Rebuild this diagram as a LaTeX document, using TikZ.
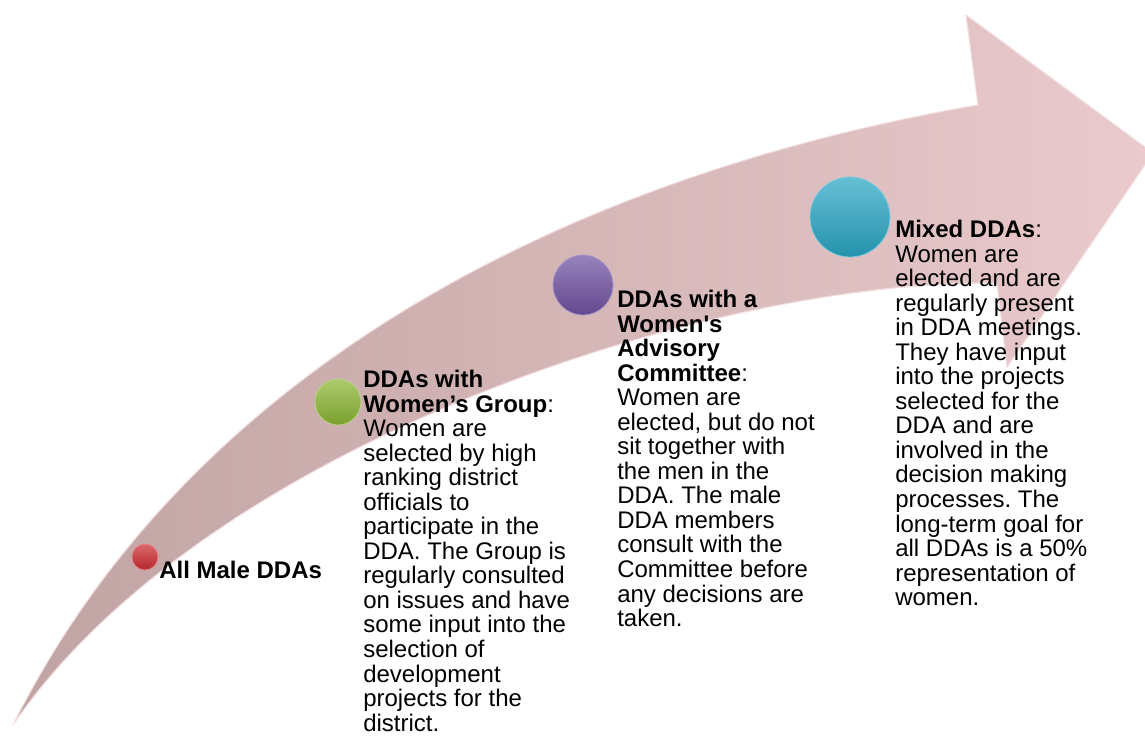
\documentclass[tikz,border=0pt]{standalone}
\usepackage{fontspec}
\setmainfont{Liberation Sans}
\usepackage{xcolor}
\usepackage{tikz}
\usetikzlibrary{shapes,positioning,calc}
\frenchspacing

\definecolor{arrowL}{RGB}{192,163,163}
\definecolor{arrowR}{RGB}{234,202,204}
\definecolor{arrowEdge}{RGB}{242,220,222}
\definecolor{redball}{RGB}{205,45,50}
\definecolor{greenball}{RGB}{140,182,52}
\definecolor{purpleball}{RGB}{112,82,162}
\definecolor{cyanball}{RGB}{42,166,196}

\tikzset{
    stagedot/.style={circle, inner sep=0pt, draw=#1!60!white, line width=0.6pt,
        top color=#1!72!white, bottom color=#1!88!black},
    blurb/.style={anchor=north west, align=left, inner sep=0pt,
        font=\fontsize{18}{18.4}\selectfont}
}

\begin{document}
\begin{tikzpicture}[x=0.75pt, y=-0.75pt]
    \useasboundingbox (0,0) rectangle (1145,735);
    \clip (0,0) rectangle (1145,735);

    % Curved arrow
    \shade[left color=arrowL, right color=arrowR, draw=arrowEdge, line width=0.8pt]
        (13,725) .. controls (200,350) and (600,170) .. (978,105)
        -- (966,15) -- (1153,153) -- (1007,367) -- (997,283)
        .. controls (700,280) and (200,450) .. (13,725) -- cycle;

    % Stage dots
    \node[stagedot=redball, minimum size=19.5pt] (dotA) at (145,557) {};
    \node[stagedot=greenball, minimum size=34.5pt] (dotB) at (338,402) {};
    \node[stagedot=purpleball, minimum size=45pt] (dotC) at (583,285) {};
    \node[stagedot=cyanball, minimum size=60pt] (dotD) at (850,217) {};

    % Stage texts
    \node[anchor=base west, inner sep=0pt, font=\fontsize{18}{18.4}\selectfont]
        (txtA) at (159,578) {\textbf{All Male DDAs}};
    \node[blurb] (txtB) at (363,370) {\textbf{DDAs with}\\ \textbf{Women’s Group}:\\ Women are\\
        selected by high\\ ranking district\\ officials to\\ participate in the\\
        DDA. The Group is\\ regularly consulted\\ on issues and have\\ some input into the\\
        selection of\\ development\\ projects for the\\ district.};
    \node[blurb] (txtC) at (617,290) {\textbf{DDAs with a}\\ \textbf{Women\textquotesingle s}\\
        \textbf{Advisory}\\ \textbf{Committee}:\\ Women are\\ elected, but do not\\
        sit together with\\ the men in the\\ DDA. The male\\ DDA members\\
        consult with the\\ Committee before\\ any decisions are\\ taken.};
    \node[blurb] (txtD) at (895,220) {\textbf{Mixed DDAs}:\\ Women are\\ elected and are\\
        regularly present\\ in DDA meetings.\\ They have input\\ into the projects\\
        selected for the\\ DDA and are\\ involved in the\\ decision making\\
        processes. The\\ long-term goal for\\ all DDAs is a 50\%\\
        representation of\\ women.};
\end{tikzpicture}
\end{document}
